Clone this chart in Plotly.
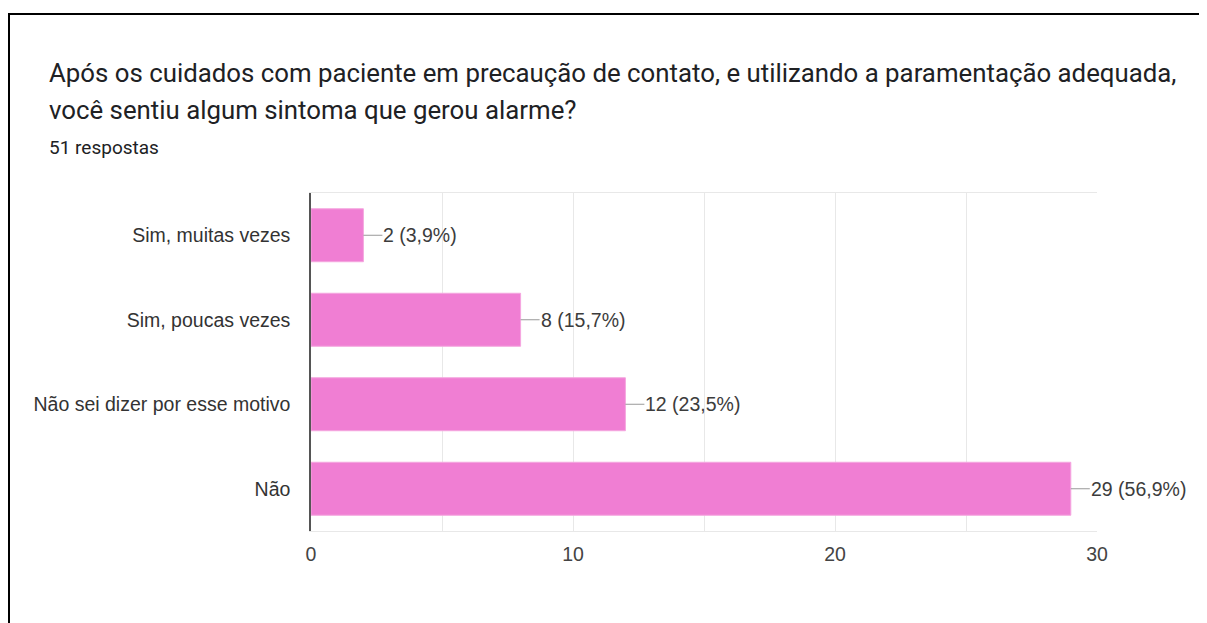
import plotly.graph_objects as go

# --- Data
CATEGORIES = ["Sim, muitas vezes", "Sim, poucas vezes", "Não sei dizer por esse motivo", "Não"]
COUNTS = [2, 8, 12, 29]
PERCENTS = ["3,9%", "15,7%", "23,5%", "56,9%"]
X_TICKS = [0, 10, 20, 30]

TITLE_LINES = [
    "Após os cuidados com paciente em precaução de contato, e utilizando a paramentação adequada,",
    "você sentiu algum sintoma que gerou alarme?",
]
SUBTITLE = "51 respostas"

# page body has an 8px margin, so work in screen px and shift
OFF = 8
W, H = 1207 - OFF, 623 - OFF
PLOT_X0, PLOT_X1, PLOT_Y0, PLOT_Y1 = 311, 1097, 193, 531  # screen px
L, T = PLOT_X0 - OFF, PLOT_Y0 - OFF
R, B = W - (PLOT_X1 - OFF), H - (PLOT_Y1 - OFF)
PW, PH = PLOT_X1 - PLOT_X0, PLOT_Y1 - PLOT_Y0


def px_x(px):
    return (px - PLOT_X0) / PW


def px_y(py):
    return (PLOT_Y1 - py) / PH


TITLE_FONT = "Roboto, Arial, sans-serif"
FONT = "Arial, 'Liberation Sans', sans-serif"
BAR_COLOR = "#F07ED3"

fig = go.Figure()
fig.add_trace(go.Bar(
    x=COUNTS, y=CATEGORIES, orientation="h",
    marker=dict(color=BAR_COLOR, line=dict(color="#F4A6DF", width=1)),
    hoverinfo="skip",
))

annotations = []
# value labels with a short leader line
for cat, n, p in zip(CATEGORIES, COUNTS, PERCENTS):
    annotations.append(dict(
        x=n, y=cat, xref="x", yref="y",
        text=f"{n} ({p})", showarrow=True, arrowhead=0, arrowwidth=1,
        arrowcolor="#999999", ax=19, ay=0, xanchor="left",
        font=dict(family=FONT, size=19.5, color="#3c3c3c"),
        borderpad=0,
    ))

# title + subtitle
for text, ypx in [(TITLE_LINES[0], 73), (TITLE_LINES[1], 110)]:
    annotations.append(dict(
        x=px_x(47), y=px_y(ypx), xref="paper", yref="paper", showarrow=False,
        text=text, xanchor="left", yanchor="middle",
        font=dict(family=TITLE_FONT, size=25.8, color="#202124"),
    ))
annotations.append(dict(
    x=px_x(47), y=px_y(147), xref="paper", yref="paper", showarrow=False,
    text=SUBTITLE, xanchor="left", yanchor="middle",
    font=dict(family=TITLE_FONT, size=19, color="#202124"),
))

fig.update_layout(
    width=W, height=H,
    margin=dict(l=L, r=R, t=T, b=B, autoexpand=False),
    paper_bgcolor="white", plot_bgcolor="white",
    showlegend=False, bargap=0.373,
    annotations=annotations,
    shapes=[dict(
        type="rect", xref="paper", yref="paper",
        x0=px_x(9), x1=px_x(1215), y0=px_y(700), y1=px_y(14),
        line=dict(color="black", width=2), fillcolor="rgba(0,0,0,0)", layer="below",
    )],
    font=dict(family=FONT, size=19, color="#444444"),
)
fig.update_xaxes(
    range=[0, 30], tickvals=X_TICKS, showgrid=True, gridcolor="#E8E8E8", gridwidth=1,
    minor=dict(dtick=5, showgrid=True, gridcolor="#E8E8E8", gridwidth=1),
    showline=True, linecolor="#E8E8E8", linewidth=1, mirror=True,
    zeroline=False, ticks="", ticklabelstandoff=6,
    tickfont=dict(family=FONT, size=19.5, color="#444444"),
)
fig.update_yaxes(
    autorange="reversed", showgrid=False, zeroline=False,
    showline=True, linecolor="#555555", linewidth=1.5,
    ticks="", ticklabelstandoff=15,
    tickfont=dict(family=FONT, size=19.5, color="#333333"),
)

fig.write_html("out.html")
